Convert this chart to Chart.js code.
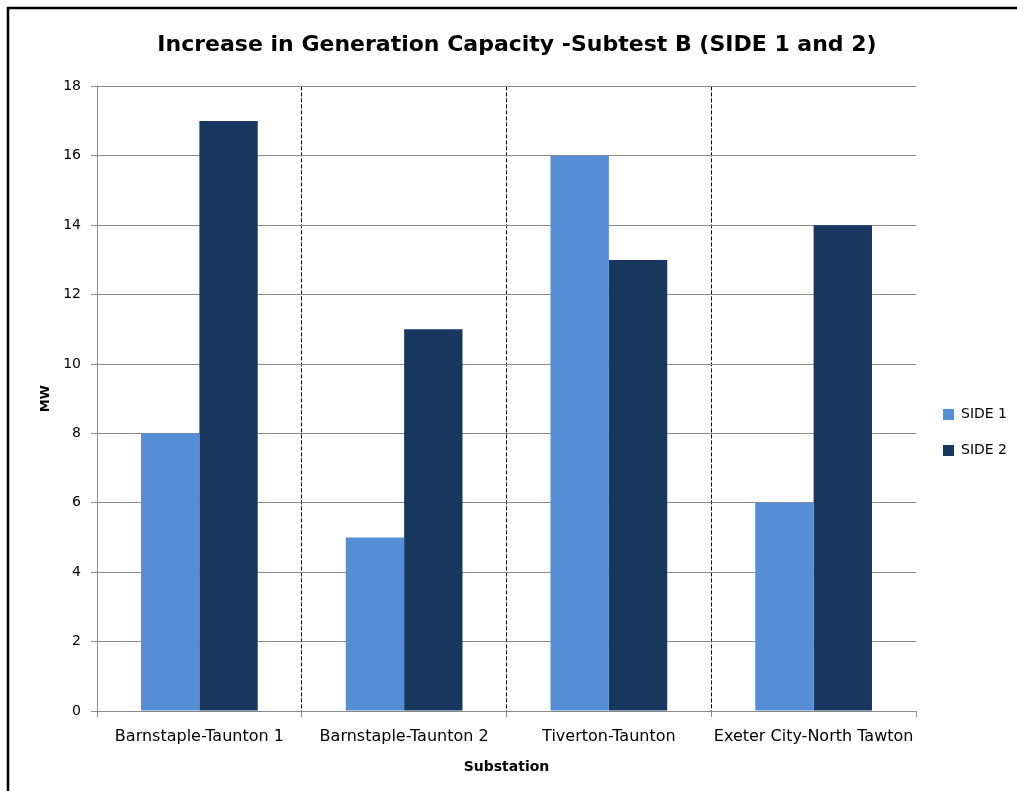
<!DOCTYPE html>
<html>
<head>
<meta charset="utf-8">
<title>Increase in Generation Capacity</title>
<script src="https://cdn.jsdelivr.net/npm/chart.js@4/dist/chart.umd.min.js"></script>
<style>
  html, body { margin: 0; padding: 0; background: #ffffff; }
  #wrap { width: 1017px; height: 791px; position: relative; }
</style>
</head>
<body>
<div id="wrap"><canvas id="chart" width="1017" height="791"></canvas></div>
<script>
// Substations and the MW added on each side
const substations = ['Barnstaple-Taunton 1', 'Barnstaple-Taunton 2', 'Tiverton-Taunton', 'Exeter City-North Tawton'];
const side1 = [8, 5, 16, 6];
const side2 = [17, 11, 13, 14];
const seriesNames = ['SIDE 1', 'SIDE 2'];
const yTicks = [0, 2, 4, 6, 8, 10, 12, 14, 16, 18];

const FONT = '"DejaVu Sans", "Liberation Sans", sans-serif';
const GRID = '#8a8a8a';

// Frame around the chart (left and top edges)
const framePlugin = {
  id: 'frame',
  beforeDraw(chart) {
    const ctx = chart.ctx;
    ctx.save();
    ctx.fillStyle = '#ffffff';
    ctx.fillRect(0, 0, chart.width, chart.height);
    ctx.strokeStyle = '#000000';
    ctx.lineWidth = 2.5;
    ctx.beginPath();
    ctx.moveTo(8, chart.height);
    ctx.lineTo(8, 8);
    ctx.lineTo(chart.width, 8);
    ctx.stroke();
    ctx.restore();
  }
};

// Nudge the legend block down and to the right of its default slot
const legendShift = {
  id: 'legendShift',
  afterLayout(chart) {
    const lg = chart.legend;
    if (!lg) return;
    const dx = 5, dy = 37;
    lg.left += dx; lg.right += dx;
    lg.top += dy; lg.bottom += dy;
  }
};

new Chart(document.getElementById('chart'), {
  type: 'bar',
  data: {
    labels: substations,
    datasets: [
      { label: seriesNames[0], data: side1, backgroundColor: '#558ED5', borderWidth: 0 },
      { label: seriesNames[1], data: side2, backgroundColor: '#17375E', borderWidth: 0 }
    ]
  },
  options: {
    responsive: false,
    animation: false,
    devicePixelRatio: 1,
    categoryPercentage: 0.57,
    barPercentage: 1.0,
    layout: { padding: { left: 22, right: 5, top: 0, bottom: 0 } },
    plugins: {
      title: {
        display: true,
        text: 'Increase in Generation Capacity -Subtest B (SIDE 1 and 2)',
        color: '#000000',
        font: { family: FONT, size: 22, weight: 'bold' },
        padding: { top: 32, bottom: 28 }
      },
      legend: {
        position: 'right',
        align: 'center',
        labels: {
          color: '#000000',
          font: { family: FONT, size: 14 },
          boxWidth: 11,
          boxHeight: 11,
          padding: 22
        }
      },
      tooltip: { enabled: false }
    },
    scales: {
      x: {
        offset: true,
        grid: {
          offset: true,
          color: (c) => (c.type !== 'tick' || c.index === 0) ? 'rgba(0,0,0,0)' : '#000000',
          tickColor: GRID,
          tickLength: 6,
          lineWidth: 1
        },
        border: { display: true, color: GRID, width: 1, dash: [4, 2] },
        ticks: {
          color: '#000000',
          font: { family: FONT, size: 16 },
          padding: 10,
          maxRotation: 0
        },
        title: {
          display: true,
          text: 'Substation',
          color: '#000000',
          font: { family: FONT, size: 14, weight: 'bold' },
          padding: { top: 6, bottom: 15 }
        },
        afterFit: (scale) => { scale.height = 80; }
      },
      y: {
        min: 0,
        max: 18,
        afterBuildTicks: (scale) => { scale.ticks = yTicks.map(v => ({ value: v })); },
        grid: { color: GRID, tickColor: GRID, tickLength: 6, lineWidth: 1 },
        border: { display: true, color: GRID, width: 1 },
        ticks: {
          color: '#000000',
          font: { family: FONT, size: 14 },
          padding: 10
        },
        title: {
          display: true,
          text: 'MW',
          color: '#000000',
          font: { family: FONT, size: 13, weight: 'bold' },
          padding: { top: 16, bottom: 0 }
        },
        afterFit: (scale) => { scale.width = 75; }
      }
    }
  },
  plugins: [framePlugin, legendShift]
});
</script>
</body>
</html>
